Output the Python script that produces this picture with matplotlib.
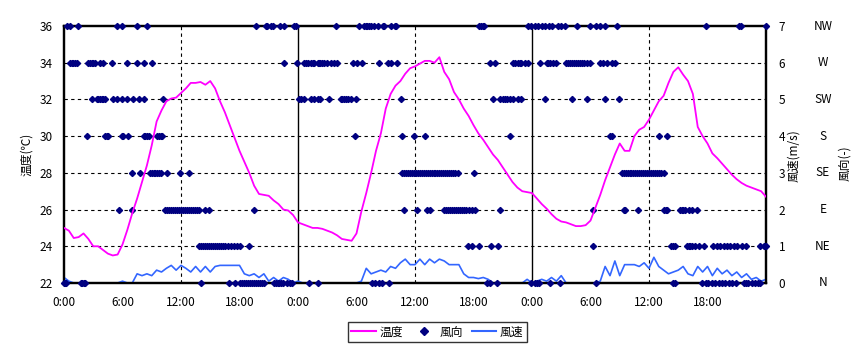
import numpy as np
import matplotlib
matplotlib.use("Agg")
import matplotlib.pyplot as plt
from matplotlib.lines import Line2D

JP = ['Noto Sans CJK JP', 'DejaVu Sans']
plt.rcParams['font.family'] = JP

# ---------------- data ----------------
# temperature every 30 min, 0:00 day1 .. 0:00 day4 (deg C)
temperature = [
    25.0, 24.85, 24.45, 24.5, 24.7, 24.4, 24.0, 24.0, 23.8, 23.6, 23.5, 23.55,
    24.1, 24.9, 25.8, 26.6, 27.5, 28.4, 29.5, 30.8, 31.4, 31.9, 32.05, 32.1,
    32.35, 32.6, 32.9, 32.9, 32.95, 32.8, 33.0, 32.6, 31.9, 31.3, 30.6, 29.9,
    29.2, 28.6, 28.0, 27.3, 26.85, 26.8, 26.75, 26.5, 26.3, 26.0, 25.95, 25.7,
    25.3, 25.2, 25.1, 25.0, 25.0, 24.95, 24.85, 24.75, 24.6, 24.4, 24.35, 24.3,
    24.7, 25.9, 26.9, 28.0, 29.2, 30.15, 31.5, 32.3, 32.75, 33.0, 33.4, 33.7,
    33.8, 33.95, 34.1, 34.1, 34.0, 34.3, 33.5, 33.1, 32.4, 32.0, 31.5, 31.1,
    30.6, 30.15, 29.8, 29.4, 29.0, 28.7, 28.3, 27.9, 27.5, 27.2, 27.0, 26.95,
    26.9, 26.6, 26.3, 26.05, 25.75, 25.5, 25.35, 25.3, 25.2, 25.1, 25.1, 25.15,
    25.4, 26.1, 26.8, 27.6, 28.3, 29.0, 29.6, 29.2, 29.2, 30.0, 30.35, 30.5,
    30.9, 31.4, 31.9, 32.2, 32.9, 33.5, 33.75, 33.35, 33.0, 32.3, 30.5, 30.0,
    29.6, 29.06, 28.8, 28.5, 28.2, 27.9, 27.65, 27.45, 27.3, 27.2, 27.1, 27.0,
    26.7,
]

# wind speed every 30 min (m/s)
wind_speed = [
    0.15, 0.05, 0.0, 0.0, 0.0, 0.0, 0.0, 0.0, 0.0, 0.0, 0.0, 0.0,
    0.05, 0.0, 0.0, 0.25, 0.2, 0.25, 0.2, 0.35, 0.3, 0.4, 0.48, 0.35,
    0.48, 0.4, 0.3, 0.45, 0.3, 0.45, 0.3, 0.45, 0.48, 0.48, 0.48, 0.48,
    0.48, 0.25, 0.2, 0.25, 0.15, 0.25, 0.05, 0.15, 0.05, 0.15, 0.1, 0.0,
    0.05, 0.0, 0.0, 0.0, 0.0, 0.0, 0.0, 0.0, 0.0, 0.0, 0.0, 0.0,
    0.0, 0.05, 0.4, 0.25, 0.3, 0.35, 0.3, 0.45, 0.4, 0.55, 0.65, 0.5,
    0.5, 0.65, 0.5, 0.65, 0.55, 0.65, 0.6, 0.5, 0.5, 0.5, 0.25, 0.15,
    0.15, 0.12, 0.15, 0.1, 0.0, 0.0, 0.0, 0.0, 0.0, 0.0, 0.0, 0.1,
    0.0, 0.05, 0.1, 0.05, 0.15, 0.05, 0.2, 0.0, 0.0, 0.0, 0.0, 0.0,
    0.0, 0.0, 0.05, 0.45, 0.2, 0.6, 0.2, 0.5, 0.5, 0.5, 0.45, 0.55,
    0.4, 0.7, 0.45, 0.35, 0.25, 0.3, 0.35, 0.45, 0.25, 0.2, 0.45, 0.3,
    0.45, 0.2, 0.4, 0.25, 0.35, 0.2, 0.3, 0.15, 0.25, 0.1, 0.15, 0.05,
    0.1,
]

# wind direction observations: hours (from day1 0:00) at each direction
dir_names = ['N', 'NE', 'E', 'SE', 'S', 'SW', 'W', 'NW']
dir_N = [0.0, 0.1, 0.2, 1.7, 1.85, 2.0, 2.2, 14.1, 16.9, 17.5, 18.1, 18.3, 18.5,
         18.7, 18.9, 19.1, 19.3, 19.5, 19.7, 19.9, 20.1, 20.3, 20.5, 21.5, 21.7,
         21.9, 22.1, 22.3, 22.5, 22.9, 23.2, 23.4, 25.1, 26.0, 31.6, 31.9, 32.3,
         32.6, 33.3, 43.4, 43.7, 44.4, 47.9, 48.3, 48.5, 48.7, 49.8, 50.9, 54.6,
         62.5, 62.7, 65.4, 65.8, 66.1, 66.5, 66.8, 67.2, 67.5, 67.8, 68.2, 68.5,
         68.9, 69.7, 69.9, 70.2, 70.6, 70.9, 71.2, 71.4]
dir_NE = [13.8, 14.1, 14.3, 14.5, 14.7, 14.9, 15.1, 15.3, 15.5, 15.7, 15.9, 16.1,
          16.3, 16.5, 16.8, 17.1, 17.4, 17.7, 18.1, 19.0, 41.4, 41.8, 42.6, 43.8,
          44.5, 54.3, 62.3, 62.5, 62.7, 63.9, 64.1, 64.2, 64.4, 64.7, 65.1, 65.6,
          66.6, 67.0, 67.3, 67.7, 68.0, 68.3, 68.7, 69.0, 69.5, 69.9, 71.4, 71.8,
          72.0]
dir_E = [5.6, 6.96, 10.4, 10.6, 10.8, 11.0, 11.2, 11.4, 11.6, 11.8, 12.0, 12.2,
         12.4, 12.6, 12.8, 13.0, 13.2, 13.4, 13.6, 13.8, 14.5, 14.85, 19.5, 34.9,
         36.2, 37.2, 37.5, 39.0, 39.2, 39.4, 39.6, 39.8, 40.0, 40.2, 40.4, 40.6,
         40.8, 41.0, 41.2, 41.5, 41.8, 42.2, 44.75, 54.3, 57.4, 57.5, 58.9, 61.5,
         61.7, 61.8, 63.2, 63.4, 63.5, 63.7, 64.1, 64.4, 64.9]
dir_SE = [6.96, 7.8, 8.85, 9.0, 9.2, 9.35, 9.5, 9.7, 9.9, 10.6, 11.9, 12.8,
          34.7, 34.9, 35.1, 35.3, 35.5, 35.7, 35.9, 36.1, 36.3, 36.5, 36.7, 36.9,
          37.1, 37.3, 37.5, 37.7, 37.9, 38.1, 38.3, 38.5, 38.7, 38.9, 39.1, 39.3,
          39.5, 39.7, 39.9, 40.1, 40.4, 42.1, 57.2, 57.4, 57.6, 57.8, 58.0, 58.2,
          58.4, 58.6, 58.8, 59.0, 59.2, 59.4, 59.6, 59.8, 60.0, 60.2, 60.4, 60.6,
          60.8, 61.0, 61.2, 61.5]
dir_S = [2.33, 4.22, 4.39, 4.56, 5.94, 6.1, 6.6, 8.16, 8.3, 8.5, 8.67, 9.5,
         9.7, 9.9, 10.05, 29.8, 34.7, 35.9, 37.0, 45.7, 56.0, 56.2, 61.0, 61.8]
dir_SW = [2.85, 3.36, 3.53, 3.7, 3.9, 4.05, 4.22, 5.07, 5.4, 5.94, 6.45, 7.1,
          7.65, 8.16, 10.2, 24.1, 24.3, 24.6, 25.3, 25.65, 26.0, 26.3, 27.2,
          28.4, 28.55, 28.7, 28.9, 29.1, 29.4, 29.9, 34.6, 44.0, 44.7, 45.0,
          45.2, 45.4, 45.7, 46.05, 46.6, 46.9, 49.3, 52.1, 53.6, 55.5, 56.9]
dir_W = [0.6, 0.8, 0.96, 1.13, 1.3, 2.5, 2.67, 2.84, 3.0, 3.2, 3.7, 4.05,
         4.9, 6.45, 7.5, 8.2, 9.0, 22.6, 23.9, 24.6, 24.8, 25.0, 25.3, 25.5,
         25.65, 26.0, 26.15, 26.3, 26.5, 26.7, 27.0, 27.4, 27.7, 28.05, 29.6,
         30.1, 30.6, 32.3, 33.2, 33.5, 34.2, 43.65, 44.2, 46.05, 46.3, 46.6,
         46.75, 46.9, 47.25, 47.6, 48.8, 49.5, 49.6, 49.8, 50.2, 50.5, 51.5,
         51.7, 51.9, 52.1, 52.3, 52.5, 52.7, 52.9, 53.1, 53.3, 53.6, 53.9, 55.0,
         55.3, 55.7, 56.2, 56.5]
dir_NW = [0.28, 0.62, 1.47, 5.4, 5.9, 7.5, 8.5, 19.65, 20.7, 20.85, 21.2, 21.4,
          22.2, 22.6, 23.6, 23.8, 27.9, 30.3, 30.8, 31.0, 31.1, 31.3, 31.5, 31.8,
          32.2, 32.7, 32.8, 33.5, 33.9, 34.0, 42.6, 42.8, 43.0, 43.1, 47.6, 47.9,
          48.3, 48.6, 49.0, 49.3, 49.7, 50.0, 50.7, 51.0, 51.4, 52.6, 53.9, 54.6,
          54.97, 55.5, 56.7, 65.8, 69.2, 69.4, 72.0]
dir_times = [dir_N, dir_NE, dir_E, dir_SE, dir_S, dir_SW, dir_W, dir_NW]

temp_ticks = [22, 24, 26, 28, 30, 32, 34, 36]
speed_ticks = [0, 1, 2, 3, 4, 5, 6, 7]
x_tick_hours = list(range(0, 72, 6))
x_tick_labels = ['0:00', '6:00', '12:00', '18:00'] * 3

# ---------------- figure ----------------
W, H = 865, 353
fig = plt.figure(figsize=(W / 100, H / 100), dpi=100)
L, R, T, B = 64, 766, 26, 283
ax = fig.add_axes([L / W, 1 - B / H, (R - L) / W, (B - T) / H])
ax2 = ax.twinx()

hours_t = np.arange(len(temperature)) * 0.5
hours_s = np.arange(len(wind_speed)) * 0.5

ax.set_xlim(0, 72)
ax.set_ylim(22, 36)
ax2.set_ylim(0, 7)

# grid
for y in temp_ticks[1:-1]:
    ax.axhline(y, color='black', lw=0.8, ls=(0, (3, 3)), zorder=1)
for xg in [12, 36, 60]:
    ax.axvline(xg, color='black', lw=0.8, ls=(0, (3, 3)), zorder=1)
for xg in [24, 48]:
    ax.axvline(xg, color='black', lw=1.0, zorder=1)

# wind speed and direction on right axis
ax2.plot(hours_s, wind_speed, color='#3366FF', lw=1.2, zorder=2)
for lvl, times in enumerate(dir_times):
    ax2.plot(times, [lvl] * len(times), ls='none', marker='D', ms=3.1,
             color='#000080', clip_on=False, zorder=3)

# temperature on left axis scale (drawn on top)
ax2.set_zorder(ax.get_zorder() + 1)
ax.patch.set_visible(False)
ax2.plot(hours_t, [(t - 22) / 2 for t in temperature],
         color='#FF00FF', lw=1.3, zorder=4)

# axes styling
for a in (ax, ax2):
    for s in a.spines.values():
        s.set_linewidth(1.6)
        s.set_color('black')

ax.set_yticks(temp_ticks)
ax.set_yticklabels([str(v) for v in temp_ticks])
ax.set_xticks(x_tick_hours)
ax.set_xticklabels(x_tick_labels)
ax.tick_params(axis='both', length=0, labelsize=8.5)
ax.tick_params(axis='y', pad=8)
ax.tick_params(axis='x', pad=9)
ax2.set_yticks(speed_ticks)
ax2.set_yticklabels([str(v) for v in speed_ticks])
ax2.tick_params(axis='y', length=0, labelsize=8.5, pad=9)

ax.text(-0.053, 0.5, '温度(℃)', transform=ax.transAxes, rotation=90,
        ha='center', va='center', fontsize=8.5, family=JP)
ax2.text(1.0395, 0.494, '風速(m/s)', transform=ax.transAxes, rotation=90,
         ha='center', va='center', fontsize=8.5, family=JP)
ax2.text(1.1125, 0.467, '風向(-)', transform=ax.transAxes, rotation=90,
         ha='center', va='center', fontsize=8.5, family=JP)
for lvl, name in enumerate(dir_names):
    ax2.text(1.081, lvl, name, transform=ax2.get_yaxis_transform(),
             ha='center', va='center', fontsize=8.5)

handles = [Line2D([], [], color='#FF00FF', lw=1.5),
           Line2D([], [], ls='none', marker='D', ms=3.6, color='#000080'),
           Line2D([], [], color='#3366FF', lw=1.5)]
leg = fig.legend(handles, ['温度', '風向', '風速'], loc='center',
                 bbox_to_anchor=(437.5 / W, 1 - 332 / H), ncol=3,
                 frameon=True, fancybox=False,
                 handlelength=2.1, handletextpad=0.3, columnspacing=0.7,
                 borderpad=0.3, prop={'family': JP, 'size': 8.5})
leg.get_frame().set_edgecolor('black')
leg.get_frame().set_linewidth(1.0)

fig.savefig('out.png', dpi=100, facecolor='white')
